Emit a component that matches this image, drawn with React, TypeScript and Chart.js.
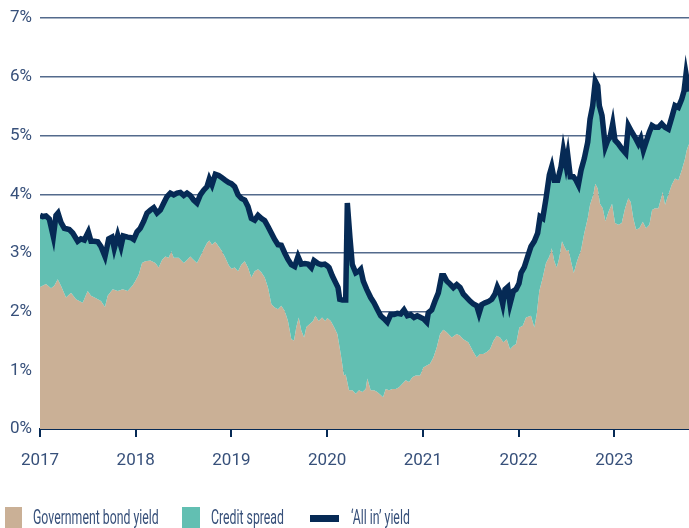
import React, { useEffect, useRef } from "react";
import { Chart, registerables } from "chart.js";

Chart.register(...registerables);

// Year tick labels on the x axis
const yearTicks = [2017, 2018, 2019, 2020, 2021, 2022, 2023];
const xMin = 2017;
const xMax = 2023.781;
// y ticks (percent)
const yMin = 0;
const yMax = 7;

// 'All in' yield (total) – dates as decimal years
const allInDates = [
  2017.000, 2017.028, 2017.063, 2017.097, 2017.139, 2017.167, 2017.188, 2017.219, 2017.254, 2017.306,
  2017.342, 2017.394, 2017.428, 2017.463, 2017.505, 2017.533, 2017.567, 2017.603, 2017.637, 2017.679,
  2017.718, 2017.752, 2017.776, 2017.812, 2017.846, 2017.870, 2017.916, 2017.951, 2017.979, 2018.014,
  2018.048, 2018.084, 2018.118, 2018.153, 2018.188, 2018.223, 2018.257, 2018.293, 2018.327, 2018.362,
  2018.397, 2018.432, 2018.466, 2018.502, 2018.536, 2018.570, 2018.606, 2018.640, 2018.675, 2018.710,
  2018.745, 2018.769, 2018.797, 2018.832, 2018.867, 2018.902, 2018.936, 2018.972, 2018.999, 2019.034,
  2019.069, 2019.103, 2019.139, 2019.173, 2019.208, 2019.243, 2019.278, 2019.312, 2019.348, 2019.382,
  2019.417, 2019.452, 2019.487, 2019.521, 2019.557, 2019.591, 2019.626, 2019.661, 2019.696, 2019.730,
  2019.766, 2019.800, 2019.835, 2019.863, 2019.905, 2019.939, 2019.975, 2020.002, 2020.020, 2020.054,
  2020.090, 2020.114, 2020.132, 2020.159, 2020.194, 2020.211, 2020.239, 2020.263, 2020.299, 2020.333,
  2020.351, 2020.378, 2020.414, 2020.455, 2020.490, 2020.524, 2020.560, 2020.594, 2020.629, 2020.664,
  2020.699, 2020.733, 2020.769, 2020.803, 2020.838, 2020.873, 2020.908, 2020.942, 2020.978, 2021.005,
  2021.041, 2021.057, 2021.093, 2021.127, 2021.162, 2021.197, 2021.221, 2021.250, 2021.284, 2021.319,
  2021.354, 2021.389, 2021.423, 2021.459, 2021.493, 2021.528, 2021.563, 2021.587, 2021.615, 2021.650,
  2021.684, 2021.720, 2021.754, 2021.778, 2021.807, 2021.835, 2021.859, 2021.887, 2021.911, 2021.946,
  2021.974, 2022.005, 2022.026, 2022.060, 2022.096, 2022.130, 2022.165, 2022.200, 2022.225, 2022.253,
  2022.287, 2022.322, 2022.347, 2022.374, 2022.409, 2022.444, 2022.468, 2022.496, 2022.514, 2022.541,
  2022.573, 2022.601, 2022.625, 2022.653, 2022.687, 2022.723, 2022.747, 2022.775, 2022.802, 2022.827,
  2022.844, 2022.872, 2022.907, 2022.932, 2022.956, 2022.984, 2023.008, 2023.043, 2023.078, 2023.120,
  2023.147, 2023.183, 2023.217, 2023.252, 2023.277, 2023.304, 2023.332, 2023.367, 2023.395, 2023.426,
  2023.461, 2023.496, 2023.531, 2023.565, 2023.601, 2023.635, 2023.670, 2023.705, 2023.729, 2023.750,
  2023.781,
];
const allInYield = [
  3.64, 3.62, 3.63, 3.58, 3.28, 3.64, 3.68, 3.52, 3.42, 3.40,
  3.34, 3.20, 3.24, 3.22, 3.36, 3.20, 3.20, 3.19, 3.11, 2.94,
  3.24, 3.27, 3.08, 3.30, 3.11, 3.29, 3.27, 3.26, 3.23, 3.36,
  3.42, 3.54, 3.68, 3.73, 3.77, 3.68, 3.73, 3.85, 3.96, 4.02,
  3.99, 4.02, 4.03, 3.98, 4.02, 3.98, 3.90, 3.85, 3.99, 4.07,
  4.13, 4.26, 4.16, 4.34, 4.32, 4.28, 4.24, 4.20, 4.18, 4.13,
  3.99, 3.93, 3.90, 3.79, 3.59, 3.56, 3.64, 3.59, 3.55, 3.45,
  3.34, 3.23, 3.14, 3.13, 3.00, 2.89, 2.80, 2.77, 2.94, 2.81,
  2.82, 2.81, 2.75, 2.87, 2.82, 2.80, 2.81, 2.78, 2.75, 2.61,
  2.49, 2.41, 2.21, 2.20, 2.20, 3.85, 3.25, 2.80, 2.66, 2.69,
  2.72, 2.52, 2.38, 2.24, 2.15, 2.04, 1.93, 1.88, 1.82, 1.95,
  1.95, 1.97, 1.96, 2.03, 1.93, 1.95, 1.90, 1.93, 1.90, 1.88,
  1.82, 1.98, 2.03, 2.18, 2.32, 2.61, 2.61, 2.52, 2.47, 2.41,
  2.46, 2.41, 2.30, 2.24, 2.18, 2.13, 2.10, 1.97, 2.12, 2.15,
  2.17, 2.21, 2.30, 2.42, 2.32, 2.13, 2.38, 2.42, 2.13, 2.35,
  2.38, 2.48, 2.66, 2.76, 2.94, 3.11, 3.20, 3.34, 3.62, 3.59,
  3.93, 4.33, 4.47, 4.24, 4.24, 4.47, 4.75, 4.50, 4.67, 4.30,
  4.30, 4.24, 4.16, 4.41, 4.61, 4.89, 5.28, 5.51, 5.93, 5.85,
  5.51, 5.34, 4.81, 4.92, 4.97, 5.20, 4.92, 4.86, 4.78, 4.70,
  5.17, 5.06, 4.97, 4.86, 4.95, 4.75, 4.89, 5.06, 5.17, 5.14,
  5.14, 5.20, 5.14, 5.11, 5.31, 5.51, 5.48, 5.62, 5.76, 6.05,
  5.75,
];

// Government bond yield – dates as decimal years
const govtDates = [
  2017.000, 2017.063, 2017.115, 2017.149, 2017.185, 2017.219, 2017.272, 2017.324, 2017.376, 2017.446,
  2017.498, 2017.533, 2017.585, 2017.637, 2017.679, 2017.707, 2017.760, 2017.812, 2017.864, 2017.916,
  2017.969, 2017.996, 2018.031, 2018.066, 2018.100, 2018.153, 2018.205, 2018.240, 2018.275, 2018.309,
  2018.345, 2018.372, 2018.397, 2018.449, 2018.502, 2018.536, 2018.570, 2018.606, 2018.640, 2018.675,
  2018.710, 2018.745, 2018.769, 2018.797, 2018.832, 2018.867, 2018.902, 2018.936, 2018.972, 2018.999,
  2019.034, 2019.069, 2019.103, 2019.139, 2019.173, 2019.208, 2019.243, 2019.278, 2019.312, 2019.348,
  2019.382, 2019.417, 2019.452, 2019.487, 2019.521, 2019.557, 2019.591, 2019.626, 2019.654, 2019.678,
  2019.703, 2019.730, 2019.759, 2019.783, 2019.818, 2019.853, 2019.877, 2019.912, 2019.947, 2019.981,
  2020.002, 2020.038, 2020.072, 2020.107, 2020.142, 2020.176, 2020.194, 2020.229, 2020.263, 2020.299,
  2020.333, 2020.368, 2020.403, 2020.420, 2020.455, 2020.490, 2020.524, 2020.560, 2020.584, 2020.612,
  2020.647, 2020.681, 2020.717, 2020.751, 2020.786, 2020.821, 2020.856, 2020.890, 2020.926, 2020.971,
  2021.005, 2021.041, 2021.075, 2021.110, 2021.145, 2021.180, 2021.214, 2021.250, 2021.302, 2021.354,
  2021.389, 2021.423, 2021.475, 2021.528, 2021.563, 2021.598, 2021.632, 2021.668, 2021.702, 2021.737,
  2021.772, 2021.807, 2021.841, 2021.877, 2021.911, 2021.946, 2021.974, 2022.008, 2022.044, 2022.078,
  2022.130, 2022.165, 2022.190, 2022.217, 2022.253, 2022.287, 2022.322, 2022.347, 2022.374, 2022.399,
  2022.426, 2022.454, 2022.478, 2022.503, 2022.524, 2022.548, 2022.577, 2022.611, 2022.653, 2022.687,
  2022.723, 2022.747, 2022.781, 2022.802, 2022.827, 2022.851, 2022.880, 2022.907, 2022.942, 2022.977,
  2023.008, 2023.043, 2023.078, 2023.113, 2023.147, 2023.172, 2023.199, 2023.228, 2023.262, 2023.298,
  2023.332, 2023.367, 2023.395, 2023.426, 2023.461, 2023.507, 2023.531, 2023.565, 2023.601, 2023.635,
  2023.670, 2023.705, 2023.740, 2023.757, 2023.774, 2023.781,
];
const govtYield = [
  2.42, 2.47, 2.40, 2.44, 2.55, 2.44, 2.24, 2.32, 2.21, 2.15,
  2.35, 2.27, 2.23, 2.18, 2.08, 2.27, 2.38, 2.35, 2.38, 2.35,
  2.45, 2.52, 2.63, 2.83, 2.86, 2.87, 2.83, 2.75, 2.88, 2.94,
  2.92, 3.03, 2.92, 2.92, 2.83, 2.88, 2.94, 2.88, 2.83, 2.94,
  3.06, 3.17, 3.21, 3.14, 3.19, 3.11, 3.03, 2.92, 2.79, 2.73,
  2.75, 2.69, 2.80, 2.86, 2.75, 2.58, 2.69, 2.72, 2.67, 2.58,
  2.41, 2.13, 2.07, 2.04, 2.10, 2.01, 1.84, 1.53, 1.51, 1.74,
  1.90, 1.68, 1.56, 1.74, 1.79, 1.84, 1.93, 1.84, 1.90, 1.84,
  1.89, 1.84, 1.74, 1.62, 1.28, 0.91, 0.93, 0.66, 0.66, 0.60,
  0.66, 0.63, 0.68, 0.86, 0.66, 0.66, 0.63, 0.58, 0.54, 0.68,
  0.66, 0.68, 0.68, 0.71, 0.77, 0.83, 0.80, 0.88, 0.91, 0.91,
  1.05, 1.08, 1.11, 1.22, 1.39, 1.62, 1.69, 1.65, 1.56, 1.62,
  1.59, 1.53, 1.48, 1.31, 1.22, 1.28, 1.28, 1.31, 1.36, 1.50,
  1.59, 1.56, 1.48, 1.53, 1.36, 1.42, 1.45, 1.73, 1.76, 1.90,
  1.93, 1.73, 1.96, 2.35, 2.58, 2.83, 2.94, 3.08, 2.86, 2.75,
  2.92, 3.20, 3.11, 3.03, 3.05, 2.86, 2.66, 2.86, 3.05, 3.34,
  3.59, 3.82, 3.99, 4.18, 4.10, 3.84, 3.76, 3.54, 3.71, 3.84,
  3.51, 3.48, 3.51, 3.76, 3.93, 3.87, 3.59, 3.40, 3.42, 3.53,
  3.42, 3.48, 3.73, 3.76, 3.76, 4.04, 3.82, 3.99, 4.16, 4.27,
  4.24, 4.41, 4.61, 4.75, 4.83, 4.85,
];

const TAN = "#cab096";
const TEAL = "#62bfb2";
const NAVY = "#062a55";
const GRID = "#536a8c";
const TEXT = "#37507a";
const FONT = "Roboto, 'Liberation Sans', sans-serif";

const zip = (xs: number[], ys: number[]) => xs.map((x, i) => ({ x, y: ys[i] }));

export default function App() {
  const ref = useRef<HTMLCanvasElement | null>(null);

  useEffect(() => {
    document.body.style.margin = "0";
    const canvas = ref.current;
    if (!canvas) return;
    const govtPts = zip(govtDates, govtYield);
    const allInPts = zip(allInDates, allInYield);
    const chart = new Chart(canvas, {
      type: "line",
      data: {
        datasets: [
          {
            // drawn last (on top)
            label: "\u2018All in\u2019 yield",
            data: allInPts,
            fill: false,
            borderColor: NAVY,
            borderWidth: 5.5,
            pointRadius: 0,
          },
          {
            label: "Credit spread",
            data: allInPts,
            fill: 2,
            backgroundColor: TEAL,
            borderWidth: 0,
            pointRadius: 0,
          },
          {
            label: "Government bond yield",
            data: govtPts,
            fill: "origin",
            backgroundColor: TAN,
            borderWidth: 0,
            pointRadius: 0,
          },
        ],
      },
      options: {
        responsive: false,
        animation: false,
        devicePixelRatio: 1,
        layout: { padding: { top: 15, right: 0, left: 0, bottom: 0 } },
        plugins: { legend: { display: false }, tooltip: { enabled: false } },
        scales: {
          x: {
            type: "linear",
            min: xMin,
            max: xMax,
            z: 1,
            afterBuildTicks: (s: any) => {
              s.ticks = yearTicks.map((v) => ({ value: v }));
            },
            afterFit: (s: any) => {
              s.height = 99;
            },
            ticks: {
              callback: (v: any) => String(v),
              color: TEXT,
              font: { family: FONT, size: 17 },
              padding: 14,
              maxRotation: 0,
              autoSkip: false,
            },
            grid: {
              drawOnChartArea: false,
              drawTicks: true,
              tickLength: 8,
              color: NAVY,
              lineWidth: 2,
            },
            border: { display: true, color: NAVY, width: 2 },
          },
          y: {
            min: yMin,
            max: yMax,
            afterFit: (s: any) => {
              s.width = 40;
            },
            ticks: {
              stepSize: 1,
              callback: (v: any) => v + "%",
              color: TEXT,
              font: { family: FONT, size: 17 },
              padding: 8,
            },
            grid: { color: GRID, lineWidth: 1.5, drawTicks: false },
            border: { display: false },
          },
        },
      },
    } as any);
    return () => chart.destroy();
  }, []);

  const textStyle: React.CSSProperties = {
    position: "absolute",
    top: 508,
    fontFamily: FONT,
    fontSize: 19.5,
    lineHeight: "19.5px",
    color: TEXT,
    whiteSpace: "nowrap",
    transform: "scaleX(0.63)",
    transformOrigin: "left center",
  };

  return (
    <div style={{ position: "relative", width: 689, height: 528, overflow: "hidden", background: "#fff" }}>
      <canvas ref={ref} width={689} height={528} style={{ position: "absolute", left: 0, top: 0 }} />
      <div style={{ position: "absolute", left: 5, top: 507, width: 17, height: 21, background: TAN }} />
      <div style={{ ...textStyle, left: 33 }}>Government bond yield</div>
      <div style={{ position: "absolute", left: 182, top: 507, width: 18, height: 21, background: TEAL }} />
      <div style={{ ...textStyle, left: 211 }}>Credit spread</div>
      <div style={{ position: "absolute", left: 310, top: 515, width: 29, height: 7, background: NAVY }} />
      <div style={{ ...textStyle, left: 351 }}>{"\u2018All in\u2019 yield"}</div>
    </div>
  );
}
